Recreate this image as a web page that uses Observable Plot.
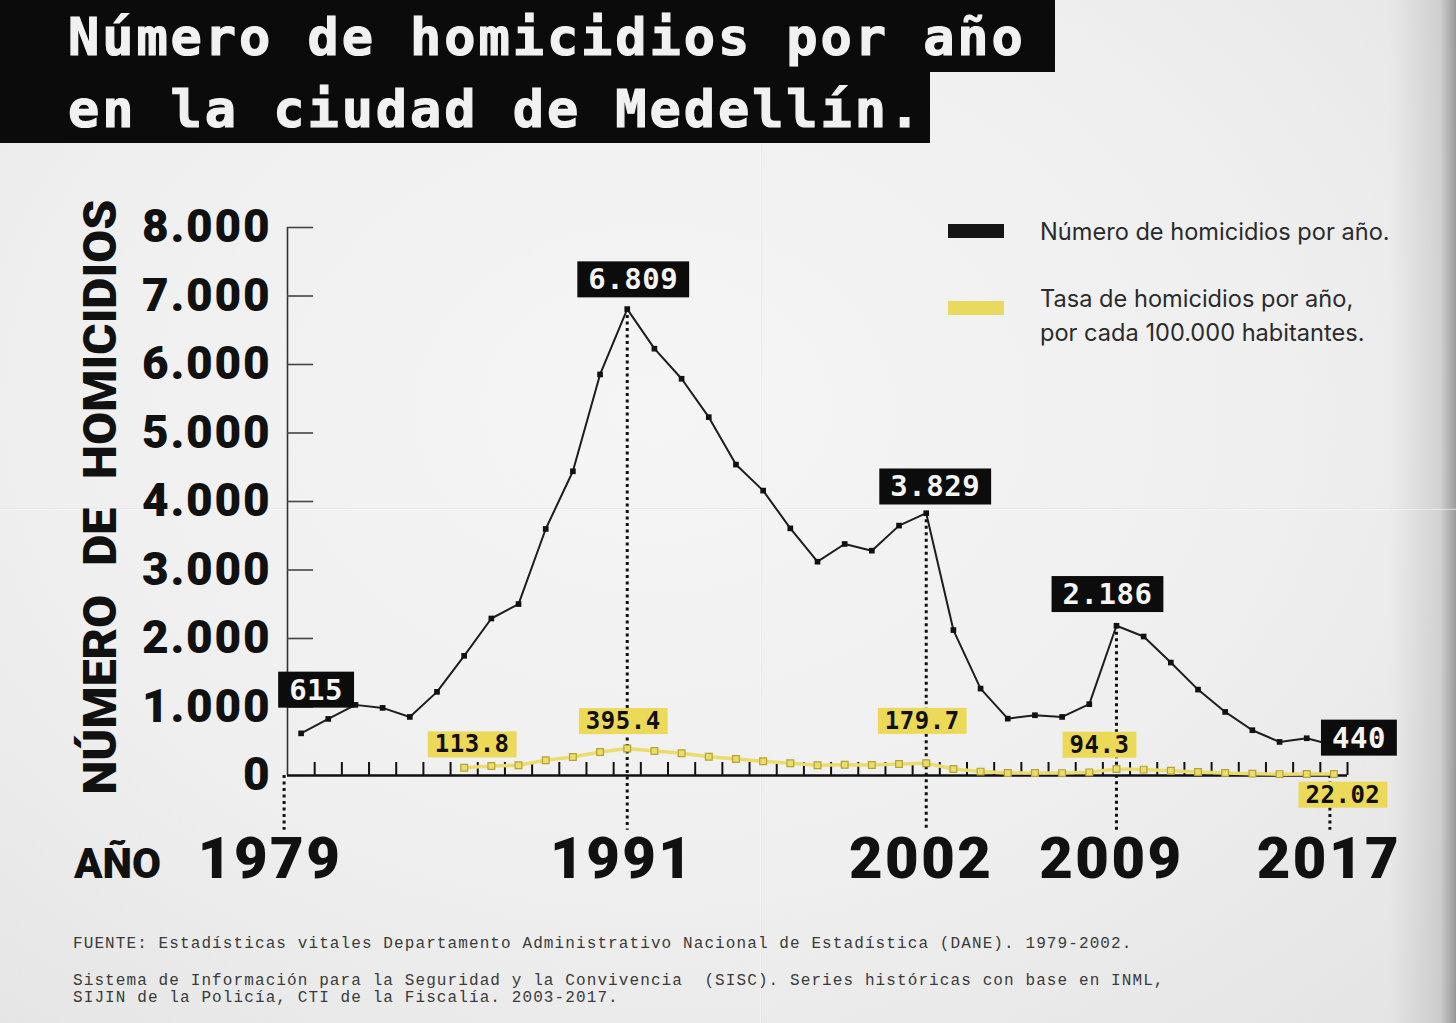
<!DOCTYPE html>
<html>
<head>
<meta charset="utf-8">
<script src="https://cdn.jsdelivr.net/npm/d3@7"></script>
<script src="https://cdn.jsdelivr.net/npm/@observablehq/plot@0.6"></script>
<style>
  html, body { margin: 0; padding: 0; }
  body {
    width: 1456px; height: 1023px; position: relative; overflow: hidden;
    background:
      linear-gradient(90deg, rgba(0,0,0,0) 0px, rgba(0,0,0,0) 1390px, rgba(120,120,120,0.22) 1440px, rgba(60,60,60,0.45) 1456px),
      radial-gradient(ellipse at 45% 40%, #f5f5f5 0%, #efefef 55%, #e3e3e3 100%);
    font-family: Inter, "Noto Sans", sans-serif;
  }
  .crease-v { position:absolute; left:760px; top:140px; width:2px; height:883px; background: linear-gradient(90deg, rgba(255,255,255,0.7), rgba(0,0,0,0.05)); }
  .crease-h { position:absolute; left:0; top:508px; width:1456px; height:2px; background: linear-gradient(180deg, rgba(0,0,0,0.05), rgba(255,255,255,0.7)); }
  .tline { position:absolute; left:0; background:#0b0b0b; color:#f1f1f1;
    font-family:"DejaVu Sans Mono", monospace; font-weight:bold; font-size:52px;
    letter-spacing:2.9px; box-sizing:border-box; padding-left:68px; white-space:pre;
    -webkit-text-stroke: 1.2px #f1f1f1; }
  #t1 { top:0; width:1055px; height:72px; line-height:74px; }
  #t2 { top:72px; width:930px; height:71px; line-height:74px; }
  #chart { position:absolute; left:0; top:150px; }
  .leg-bar { position:absolute; left:948px; width:56px; height:14px; }
  .leg-text { position:absolute; left:1040px; font-family:Inter, sans-serif; font-size:23.6px; color:#2b2b2b; letter-spacing:0px; line-height:34px; white-space:pre; }
  .foot { position:absolute; left:73px; font-family:"Liberation Mono", monospace; font-size:16px; letter-spacing:1.1px; color:#3a3a3a; white-space:pre; line-height:17px; }
</style>
</head>
<body>
<div class="crease-v"></div>
<div class="crease-h"></div>
<div id="t1" class="tline">Número de homicidios por año</div>
<div id="t2" class="tline">en la ciudad de Medellín.</div>

<svg width="140" height="1023" style="position:absolute;left:0;top:0;overflow:visible">
  <text transform="translate(116,497) rotate(-90)" text-anchor="middle" textLength="595" lengthAdjust="spacingAndGlyphs"
    font-family="Roboto, sans-serif" font-weight="900" font-size="46" fill="#111" style="word-spacing:16px">NÚMERO DE HOMICIDIOS</text>
</svg>

<div id="chart"></div>

<div class="leg-bar" style="top:224px;background:#151515"></div>
<div class="leg-text" style="top:215px">Número de homicidios por año.</div>
<div class="leg-bar" style="top:301px;background:#e9d95e"></div>
<div class="leg-text" style="top:282px">Tasa de homicidios por año,
por cada 100.000 habitantes.</div>

<div class="foot" style="top:936px">FUENTE: Estadísticas vitales Departamento Administrativo Nacional de Estadística (DANE). 1979-2002.</div>
<div class="foot" style="top:973px">Sistema de Información para la Seguridad y la Convivencia  (SISC). Series históricas con base en INML,
SIJIN de la Policía, CTI de la Fiscalía. 2003-2017.</div>

<script>
// ---------- DATA ----------
const years = [1979,1980,1981,1982,1983,1984,1985,1986,1987,1988,
               1989,1990,1991,1992,1993,1994,1995,1996,1997,1998,
               1999,2000,2001,2002,2003,2004,2005,2006,2007,2008,
               2009,2010,2011,2012,2013,2014,2015,2016,2017];
const homicides = [615,826,1031,987,855,1221,1747,2292,2503,3599,
                   4441,5855,6809,6231,5792,5231,4539,4159,3608,3121,
                   3380,3282,3648,3829,2123,1269,830,880,855,1041,
                   2186,2029,1649,1254,928,661,490,544,440];
const rateYears = [1985,1986,1987,1988,1989,1990,1991,1992,1993,1994,
                   1995,1996,1997,1998,1999,2000,2001,2002,2003,2004,
                   2005,2006,2007,2008,2009,2010,2011,2012,2013,2014,
                   2015,2016,2017];
const rates = [113.8,139,149,222,270,344,395.4,358,325,275,
               241,208,178,149,158,154,168,179.7,95,57,
               37,36,35,46,94.3,86,70,52,38,27,
               20,21.5,22.02];
const yTicks = [0,1000,2000,3000,4000,5000,6000,7000,8000];
const peakYears = [1991, 2002, 2009];          // dotted lines from the point down
const xLabelYears = [1979, 1991, 2002, 2009, 2017];
const countLabelYears = [1979, 1991, 2002, 2009, 2017];
const rateLabelYears = [1985, 1991, 2002, 2009, 2017];

// ---------- tables ----------
const countData = years.map((y, i) => ({year: y, value: homicides[i]}));
const rateData = rateYears.map((y, i) => ({year: y, value: rates[i]}));
const es = d3.formatLocale({decimal: ",", thousands: ".", grouping: [3], currency: ["$", ""]});
const fmt = es.format(",");
const countOf = y => countData.find(d => d.year === y).value;
const rateOf = y => rateData.find(d => d.year === y).value;

const firstYear = years[0], lastYear = years[years.length - 1];
const xDomain = [firstYear - 0.5, lastYear + 0.5];
const tickYears = years.map(y => y + 0.5);

// label placement (style)
const countOffsets = [[15,-43],[6,-29],[9,-26],[-9,-31],[25,-7]];
const rateOffsets = [[8,-23],[-4,-27],[-4,-42],[-17,-24],[9,21]];
const BLACK_TXT = "#f4f4f4", YELLOW_TXT = "#101010";

const countLabelMarks = countLabelYears.map((y, i) => Plot.text([{year: y, value: countOf(y)}], {
  x: "year", y: "value", text: d => fmt(d.value),
  dx: countOffsets[i][0], dy: countOffsets[i][1],
  fill: BLACK_TXT, fontFamily: "DejaVu Sans Mono, monospace", fontWeight: "bold", fontSize: 29
}));
const rateLabelMarks = rateLabelYears.map((y, i) => Plot.text([{year: y, value: rateOf(y)}], {
  x: "year", y: "value", text: d => String(d.value),
  dx: rateOffsets[i][0], dy: rateOffsets[i][1],
  fill: YELLOW_TXT, fontFamily: "DejaVu Sans Mono, monospace", fontWeight: "bold", fontSize: 24
}));

const dotted = {stroke: "#111", strokeWidth: 3, strokeDasharray: "3 3.5"};
const bigFont = {fontFamily: "Roboto, sans-serif", fontWeight: 900, fill: "#111"};

const plot = Plot.plot({
  width: 1456, height: 750,
  marginTop: 77, marginBottom: 125, marginLeft: 287, marginRight: 109,
  x: {domain: xDomain, axis: null},
  y: {domain: [0, 8000], axis: null},
  style: {background: "transparent", overflow: "visible"},
  marks: [
    // y axis line and ticks
    Plot.ruleX([xDomain[0]], {y1: 0, y2: yTicks[yTicks.length - 1], stroke: "#333", strokeWidth: 1.6}),
    Plot.ruleY(yTicks.slice(1), {y: d => d, x1: xDomain[0], x2: xDomain[0] + 0.96, stroke: "#444", strokeWidth: 1.6}),
    // y tick labels
    Plot.text(yTicks, {x: xDomain[0], y: d => d, text: d => fmt(d), dx: -16, textAnchor: "end", fontSize: 46, ...bigFont}),
    // dotted guides
    Plot.ruleX(peakYears, {x: d => d, y1: d => countOf(d), y2: -800, ...dotted}),
    Plot.ruleX([firstYear], {x: d => d, y1: 0, y2: -800, dx: -17, ...dotted}),
    Plot.ruleX([lastYear], {x: d => d, y1: 0, y2: -800, dx: -4, ...dotted}),
    // x axis line and ticks
    Plot.ruleY([0], {x1: xDomain[0], x2: xDomain[1], stroke: "#111", strokeWidth: 2.5}),
    Plot.ruleX(tickYears, {x: d => d, y1: 0, y2: 190, stroke: "#111", strokeWidth: 2}),
    // rate series (yellow)
    Plot.line(rateData, {x: "year", y: "value", stroke: "#ebdc70", strokeWidth: 3.5}),
    Plot.dot(rateData, {x: "year", y: "value", symbol: "square", r: 3.8, fill: "#ebdc6c", stroke: "#b3a232", strokeWidth: 1.2}),
    // homicide counts (black)
    Plot.line(countData, {x: "year", y: "value", stroke: "#1d1d1d", strokeWidth: 2}),
    Plot.dot(countData, {x: "year", y: "value", symbol: "square", r: 3.2, fill: "#111"}),
    // labels
    ...countLabelMarks,
    ...rateLabelMarks,
    // x year labels
    Plot.text(xLabelYears.filter(y => y !== firstYear), {x: d => d, y: 0, text: d => String(d), dy: 102, dx: -5,
      lineAnchor: "bottom", fontSize: 58, ...bigFont}),
    Plot.text([firstYear], {x: d => d, y: 0, text: d => String(d), dy: 102, dx: -31,
      lineAnchor: "bottom", fontSize: 58, ...bigFont}),
    Plot.text(["AÑO"], {x: xDomain[0], y: 0, text: d => d, dy: 102, dx: -170,
      lineAnchor: "bottom", fontSize: 42, ...bigFont})
  ]
});
document.getElementById("chart").appendChild(plot);

// extra styling (letter spacing of the big labels)
const st = document.createElementNS("http://www.w3.org/2000/svg", "style");
st.textContent = `g[font-size="58"] text { letter-spacing: 2.5px; }
g[font-size="46"] text { letter-spacing: 1.8px; }
g[fill="${BLACK_TXT}"] text, g[fill="${YELLOW_TXT}"] text { letter-spacing: 0.5px; }`;
plot.appendChild(st);

// label boxes built from the rendered text extents
function addBoxes(sel, fill, padX, padY) {
  plot.querySelectorAll(sel).forEach(t => {
    const bb = t.getBBox();
    const r = document.createElementNS("http://www.w3.org/2000/svg", "rect");
    r.setAttribute("x", bb.x - padX);
    r.setAttribute("y", bb.y - padY);
    r.setAttribute("width", bb.width + 2 * padX);
    r.setAttribute("height", bb.height + 2 * padY);
    r.setAttribute("fill", fill);
    if (t.getAttribute("transform")) r.setAttribute("transform", t.getAttribute("transform"));
    t.parentNode.insertBefore(r, t);
  });
}
addBoxes(`g[fill="${BLACK_TXT}"] text`, "#0c0c0c", 11, 1);
addBoxes(`g[fill="${YELLOW_TXT}"] text`, "#ebd957", 7, -1);
</script>
</body>
</html>
